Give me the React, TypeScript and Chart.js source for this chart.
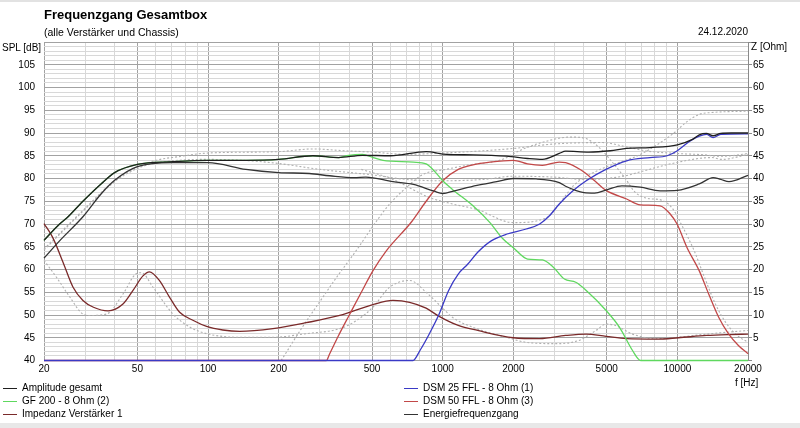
import React, { useEffect, useRef } from "react";
import { Chart, registerables } from "chart.js";

Chart.register(...registerables);

// ---------- axis ticks ----------
const xGridFreqs = [20, 30, 40, 50, 60, 70, 80, 90, 100, 200, 300, 400, 500, 600, 700, 800, 900, 1000, 2000, 3000, 4000, 5000, 6000, 7000, 8000, 9000, 10000, 20000];
const xLabelFreqs = [20, 50, 100, 200, 500, 1000, 2000, 5000, 10000, 20000];

// ---------- Amplitude gesamt (dB) ----------
const ampFreq = [20, 23.3, 25, 29.3, 35, 40, 50, 71, 100, 145, 200, 280, 360, 455, 600, 850, 1040, 1350, 1870, 2300, 2660, 3140, 3340, 4200, 5180, 6080, 7640, 10000, 11600, 12400, 13300, 14200, 15300, 17000, 20000];
const ampDb = [66.4, 70, 71.3, 75, 78.8, 81.3, 83.1, 83.7, 84, 84, 84.2, 85, 84.6, 85.1, 85, 85.9, 85.3, 85.2, 84.9, 84.4, 84.2, 85.5, 86.0, 85.8, 86.1, 86.6, 86.8, 87.4, 88.6, 89.6, 89.9, 89.4, 89.9, 90, 90];

// ---------- Energiefrequenzgang (dB) ----------
const enFreq = [20, 23.3, 29.3, 35, 40, 50, 71, 100, 145, 200, 270, 330, 420, 470, 614, 750, 920, 1000, 1120, 1400, 1700, 2000, 2500, 3140, 3340, 4000, 4440, 5000, 5800, 6950, 8440, 10000, 12400, 14200, 15300, 16600, 20000];
const enDb = [62.5, 66.3, 71.6, 76.6, 79.6, 82.6, 83.5, 83.5, 82.0, 81.3, 81.1, 80.6, 80.2, 80.3, 79.3, 78.7, 77.2, 76.7, 77.3, 78.5, 79.3, 80, 79.9, 79.1, 78.3, 76.9, 76.8, 77.5, 78.4, 78.1, 77.3, 77.4, 78.8, 80.2, 79.8, 79.3, 80.7];

// ---------- GF 200 - 8 Ohm (2) (dB) ----------
const gfFreq = [20, 23.3, 25, 29.3, 35, 40, 50, 71, 100, 145, 200, 280, 360, 390, 455, 505, 557, 750, 850, 930, 1000, 1100, 1346, 1590, 1800, 2000, 2300, 2660, 2960, 3300, 3690, 4090, 4970, 5670, 6440, 6980, 20000];
const gfDb = [66.4, 70, 71.3, 75, 78.8, 81.3, 83.1, 83.7, 84, 84, 84.2, 85, 84.6, 85, 85.3, 84.6, 84.0, 83.6, 83.2, 81.4, 79.5, 77.6, 74, 70.3, 66.8, 64.8, 62.3, 62.1, 60.5, 57.9, 57.2, 55.4, 51, 47.3, 42.2, 40, 40];

// ---------- DSM 25 FFL - 8 Ohm (1) (dB) ----------
const dsm25Freq = [20, 747, 800, 880, 966, 1060, 1165, 1280, 1410, 1610, 1880, 2270, 2590, 2850, 3140, 3590, 4090, 4960, 6080, 7640, 9050, 10000, 11300, 12400, 13300, 14200, 15300, 20000];
const dsm25Db = [40, 40, 42.2, 46, 50.2, 55.4, 59, 61.2, 63.8, 66.3, 67.8, 68.9, 70, 71.8, 74.4, 77.3, 79.5, 82, 83.9, 84.6, 85, 86.1, 88.2, 89.3, 89.7, 89.0, 89.7, 89.8];

// ---------- DSM 50 FFL - 8 Ohm (3) (dB) ----------
const dsm50Freq = [20, 319, 330, 360, 400, 450, 504, 575, 740, 850, 1000, 1165, 1346, 1590, 2000, 2300, 2660, 3140, 3340, 3900, 4440, 4970, 6080, 6950, 8440, 9320, 9970, 11000, 12400, 13600, 15000, 16500, 18200, 20000];
const dsm50Db = [40, 40, 41.5, 45.5, 50, 55, 59.7, 64.1, 70.6, 75, 79.5, 82, 83, 83.6, 84, 83.2, 82.9, 83.6, 83.5, 81.8, 79.5, 77.4, 75.5, 74.2, 74.0, 72.2, 70, 64.8, 59.7, 54.6, 49.5, 45.9, 43.3, 41.5];

// ---------- Impedanz Verstärker 1 (Ohm) ----------
const impFreq = [20, 21.8, 24.1, 26.6, 29.3, 32.5, 37.5, 43.4, 47.9, 52.8, 56.3, 62, 68.4, 75.7, 86.6, 98.6, 115.6, 136.5, 189, 262, 364, 504, 614, 723, 850, 966, 1165, 1410, 2000, 2590, 3340, 4090, 4970, 6080, 8200, 10100, 13300, 16500, 20000];
const impOhm = [30.1, 27, 21.6, 16.1, 13.2, 11.7, 10.9, 12.4, 15.4, 18.6, 19.5, 17.6, 14, 10.6, 8.8, 7.5, 6.7, 6.4, 7, 8.3, 9.9, 12.3, 13.2, 12.8, 11.5, 9.7, 7.7, 6.6, 5, 4.8, 5.5, 5.8, 5.3, 4.8, 4.7, 5, 5.5, 5.7, 5.8];

// ---------- dotted comparison curves ----------
const refAmpFreq = [20, 30, 40, 50, 60, 75, 100, 200, 280, 380, 505, 700, 1000, 1500, 2000, 3000, 4800, 6000, 7500, 10000, 13000, 15000, 17000, 20000];
const refAmpDb = [64.5, 73.5, 79.5, 82.5, 84, 84.8, 85.6, 85.9, 86.5, 86.1, 85.8, 85.3, 85.6, 86.1, 86.6, 87.6, 87.9, 87, 86, 85.5, 85.2, 84.9, 85, 85.5];

const refEnFreq = [20, 30, 40, 50, 60, 80, 100, 150, 200, 300, 500, 700, 1000, 1500, 2000, 3000, 4000, 5000, 6000, 7000, 9500, 14000, 15500, 20000];
const refEnDb = [64.3, 73.3, 79.3, 82.2, 83.4, 84.1, 84.2, 83.9, 83.3, 82, 80.8, 79.8, 79.5, 79.8, 80.5, 80.3, 79.8, 80, 80.6, 81.5, 83.3, 84.6, 84.2, 85.3];

const refMidFreq = [205, 250, 300, 350, 430, 520, 594, 700, 824, 1030, 1300, 1800, 2100, 2600, 3500, 4000, 4600, 5200, 6000, 6600, 7500, 8500, 9500, 10500, 11800, 13000, 14500, 16000, 18000, 20000];
const refMidDb = [40, 47, 53, 58, 64.3, 70.5, 74.4, 78, 80.9, 82, 83, 84.2, 86, 87.8, 89.1, 88.9, 87, 84, 80, 77, 75.6, 75.3, 73.5, 69.5, 64.1, 58.5, 52.5, 48.5, 45.5, 44];

const refHighFreq = [450, 600, 880, 1100, 1400, 2000, 2750, 3300, 3600, 4600, 6950, 9500, 11000, 12400, 14000, 20000];
const refHighDb = [82, 80, 75.8, 74.4, 73.2, 70.3, 71.3, 75.9, 78.4, 81.8, 85.3, 89.7, 92.5, 94.1, 94.5, 94.8];

const refImpFreq = [20, 22.6, 25.8, 29.3, 31.3, 36.9, 43.4, 49.2, 52, 58.3, 70.9, 83.9, 98.6, 136.5, 189, 262, 364, 430, 504, 594, 723, 850, 1000, 1100, 1346, 1870, 2270, 3050, 3800, 4500, 4970, 5450, 6440, 8200, 10000, 13300, 20000];
const refImpOhm = [22, 18.3, 13.9, 10.2, 9.9, 10.2, 14.6, 19, 19.3, 16.1, 10.2, 7.3, 5.9, 5.1, 5.1, 5.9, 7, 8.8, 11.7, 16.1, 17.6, 15, 11.5, 9.5, 7.3, 5.1, 4, 3.7, 4.4, 6.6, 8, 7.7, 5.8, 4.8, 5.1, 5.8, 6.6];

const pts = (f: number[], v: number[]) => f.map((x, i) => ({ x, y: v[i] }));

const FONT = "'Liberation Sans', Arial, sans-serif";
const GRID_MAJOR = "#a2a2a2";
const GRID_MINOR = "#d8d8d8";
const DOT = "#b0b0b0";

type Series = { label: string; color: string; data: { x: number; y: number }[]; axis: string; col: number; row: number };

const series: Series[] = [
  { label: "Amplitude gesamt", color: "#1f1f1f", data: pts(ampFreq, ampDb), axis: "y", col: 0, row: 0 },
  { label: "Energiefrequenzgang", color: "#333333", data: pts(enFreq, enDb), axis: "y", col: 1, row: 2 },
  { label: "DSM 25 FFL - 8 Ohm (1)", color: "#3a3ac6", data: pts(dsm25Freq, dsm25Db), axis: "y", col: 1, row: 0 },
  { label: "GF 200 - 8 Ohm (2)", color: "#5fd85f", data: pts(gfFreq, gfDb), axis: "y", col: 0, row: 1 },
  { label: "DSM 50 FFL - 8 Ohm (3)", color: "#c24848", data: pts(dsm50Freq, dsm50Db), axis: "y", col: 1, row: 1 },
  { label: "Impedanz Verstärker 1", color: "#7a2a2a", data: pts(impFreq, impOhm), axis: "y1", col: 0, row: 2 },
];

const dotted = [
  { data: pts(refAmpFreq, refAmpDb), axis: "y" },
  { data: pts(refEnFreq, refEnDb), axis: "y" },
  { data: pts(refMidFreq, refMidDb), axis: "y" },
  { data: pts(refHighFreq, refHighDb), axis: "y" },
  { data: pts(refImpFreq, refImpOhm), axis: "y1" },
];

export default function App() {
  const ref = useRef<HTMLCanvasElement | null>(null);

  useEffect(() => {
    if (!ref.current) return;
    const datasets: any[] = [
      ...series.map((s) => ({
        label: s.label,
        data: s.data,
        yAxisID: s.axis,
        borderColor: s.color,
        borderWidth: 1.3,
        pointRadius: 0,
        fill: false,
        cubicInterpolationMode: "monotone",
        clip: 3,
      })),
      ...dotted.map((d, i) => ({
        label: "ref" + i,
        data: d.data,
        yAxisID: d.axis,
        borderColor: DOT,
        borderWidth: 1.1,
        borderDash: [2, 2],
        pointRadius: 0,
        fill: false,
        cubicInterpolationMode: "monotone",
        clip: 3,
      })),
    ];

    const chart = new Chart(ref.current, {
      type: "line",
      data: { datasets },
      options: {
        animation: false,
        responsive: false,
        events: [],
        layout: { padding: { top: 42, left: 0, right: 0, bottom: 0 } },
        plugins: { legend: { display: false }, tooltip: { enabled: false }, title: { display: false } },
        scales: {
          x: {
            type: "logarithmic",
            min: 20,
            max: 20000,
            afterBuildTicks: (s: any) => {
              s.ticks = xGridFreqs.map((v) => ({ value: v }));
            },
            afterFit: (s: any) => {
              s.height = 67.5;
            },
            ticks: {
              autoSkip: false,
              maxRotation: 0,
              minRotation: 0,
              padding: 3,
              color: "#000",
              font: { family: FONT, size: 10 },
              callback: (v: any) => (xLabelFreqs.includes(Number(v)) ? String(v) : ""),
            },
            grid: {
              drawTicks: false,
              lineWidth: 1,
              color: (c: any) => (xLabelFreqs.includes(c.tick?.value) ? GRID_MAJOR : GRID_MINOR),
            },
            border: { display: false },
          },
          y: {
            type: "linear",
            position: "left",
            min: 40,
            max: 110,
            afterFit: (s: any) => {
              s.width = 44;
            },
            ticks: {
              stepSize: 1,
              autoSkip: false,
              padding: 9,
              color: "#000",
              font: { family: FONT, size: 10 },
              callback: (v: any) => (Number(v) % 5 === 0 && Number(v) !== 110 ? String(v) : ""),
            },
            grid: {
              drawTicks: false,
              lineWidth: 1,
              color: (c: any) => (c.tick && c.tick.value % 5 === 0 ? GRID_MAJOR : GRID_MINOR),
            },
            border: { display: false },
          },
          y1: {
            type: "linear",
            position: "right",
            min: 0,
            max: 70,
            afterFit: (s: any) => {
              s.width = 52;
            },
            ticks: {
              stepSize: 5,
              autoSkip: false,
              padding: 1,
              color: "#000",
              font: { family: FONT, size: 10 },
              callback: (v: any) => (Number(v) > 0 && Number(v) < 70 ? String(v) : ""),
            },
            grid: { drawOnChartArea: false, drawTicks: true, tickLength: 4, color: "#8a8a8a" },
            border: { display: true, color: "#8a8a8a" },
          },
        },
      } as any,
    });
    return () => chart.destroy();
  }, []);

  const txt = (extra: React.CSSProperties): React.CSSProperties => ({
    position: "absolute",
    fontFamily: FONT,
    fontSize: 10,
    lineHeight: "12px",
    color: "#000",
    whiteSpace: "nowrap",
    ...extra,
  });

  return (
    <div style={{ position: "fixed", left: 0, top: 0, width: 800, height: 428, background: "#fff", overflow: "hidden" }}>
      <div style={{ position: "absolute", left: 0, top: 0, width: 800, height: 2, background: "#e2e2e2" }} />
      <canvas ref={ref} width={800} height={428} style={{ position: "absolute", left: 0, top: 0, width: 800, height: 428 }} />
      <div style={txt({ left: 44, top: 7, fontSize: 13, fontWeight: "bold", lineHeight: "16px" })}>Frequenzgang Gesamtbox</div>
      <div style={txt({ left: 44, top: 25.5, fontSize: 10.5 })}>(alle Verstärker und Chassis)</div>
      <div style={txt({ right: 52, top: 25.5 })}>24.12.2020</div>
      <div style={txt({ left: 2, top: 41.5 })}>SPL [dB]</div>
      <div style={txt({ left: 751, top: 41 })}>Z [Ohm]</div>
      <div style={txt({ left: 735, top: 377 })}>f [Hz]</div>
      {series.map((s) => {
        const lx = s.col === 0 ? 3 : 404;
        const cy = 388 + s.row * 13;
        return (
          <React.Fragment key={s.label}>
            <div style={{ position: "absolute", left: lx, top: cy - 0.5, width: 14, height: 1.3, background: s.color }} />
            <div style={txt({ left: lx + 19, top: cy - 6 })}>{s.label}</div>
          </React.Fragment>
        );
      })}
      <div style={{ position: "absolute", left: 0, top: 423, width: 800, height: 5, background: "#e8e8e8" }} />
    </div>
  );
}
